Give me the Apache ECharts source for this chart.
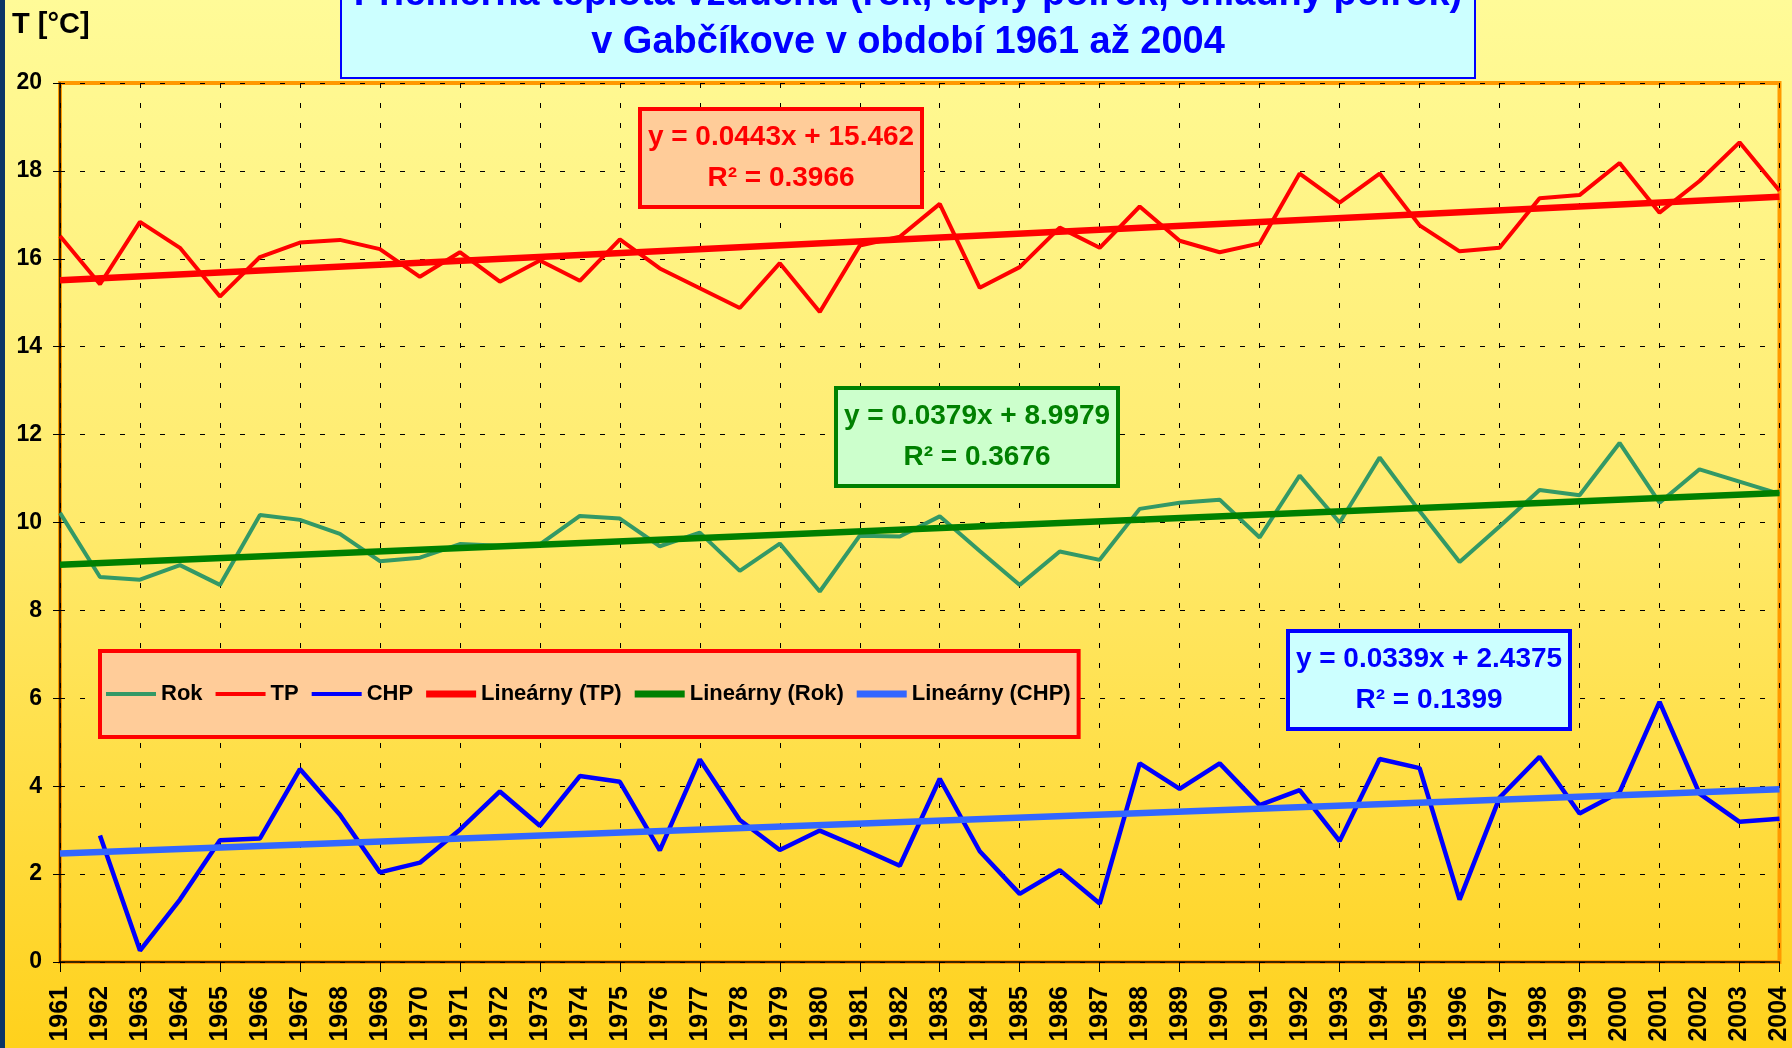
<!DOCTYPE html>
<html lang="sk">
<head>
    <meta charset="UTF-8">
    <title>Priemerná teplota vzduchu v Gabčíkove 1961 - 2004</title>
    <script src="https://cdn.jsdelivr.net/npm/echarts@6/dist/echarts.min.js"></script>
    <style>
        html, body { margin: 0; padding: 0; }
    </style>
</head>
<body>
    <div id="main" style="width:1792px;height:1048px;"></div>
    <script type="text/javascript">
        // roky
        var roky = ['1961','1962','1963','1964','1965','1966','1967','1968','1969','1970',
            '1971','1972','1973','1974','1975','1976','1977','1978','1979','1980',
            '1981','1982','1983','1984','1985','1986','1987','1988','1989','1990',
            '1991','1992','1993','1994','1995','1996','1997','1998','1999','2000',
            '2001','2002','2003','2004'];
        // priemer za rok
        var rok = [10.22, 8.76, 8.70, 9.03, 8.58, 10.17, 10.06, 9.74, 9.12, 9.20,
            9.51, 9.47, 9.50, 10.15, 10.09, 9.46, 9.77, 8.90, 9.52, 8.43,
            9.70, 9.68, 10.14, 9.35, 8.58, 9.34, 9.15, 10.31, 10.45, 10.52,
            9.66, 11.07, 10.00, 11.48, 10.26, 9.10, 9.91, 10.74, 10.62, 11.81,
            10.45, 11.21, 10.93, 10.65];
        // teplý polrok
        var tp = [16.52, 15.42, 16.84, 16.25, 15.14, 16.04, 16.37, 16.43, 16.22, 15.59,
            16.15, 15.48, 15.96, 15.50, 16.44, 15.78, 15.33, 14.88, 15.90, 14.79,
            16.30, 16.50, 17.25, 15.34, 15.81, 16.71, 16.25, 17.19, 16.41, 16.15,
            16.35, 17.94, 17.28, 17.94, 16.76, 16.17, 16.25, 17.38, 17.45, 18.18,
            17.05, 17.77, 18.65, 17.55];
        // chladný polrok (1961 chýba)
        var chp = [null, 2.88, 0.26, 1.42, 2.77, 2.81, 4.39, 3.35, 2.04, 2.26,
            3.01, 3.88, 3.10, 4.23, 4.10, 2.54, 4.61, 3.23, 2.55, 2.99,
            2.60, 2.19, 4.17, 2.52, 1.55, 2.09, 1.33, 4.52, 3.94, 4.52,
            3.57, 3.91, 2.75, 4.62, 4.41, 1.42, 3.74, 4.67, 3.38, 3.86,
            5.92, 3.83, 3.19, 3.26];
        // lineárne trendy - hodnoty na začiatku a na konci obdobia
        var trendTP = [15.51, 17.41];
        var trendRok = [9.04, 10.67];
        var trendCHP = [2.47, 3.93];
        var rovnice = {
            tp: 'y = 0.0443x + 15.462\nR² = 0.3966',
            rok: 'y = 0.0379x + 8.9979\nR² = 0.3676',
            chp: 'y = 0.0339x + 2.4375\nR² = 0.1399'
        };

        var pismo = 'Liberation Sans, Arial, sans-serif';
        var prvy = roky[0], posledny = roky[roky.length - 1];
        // ikonky v legende - tenka a hruba ciara
        var ikonaTenka = 'path://M0,0H50V4H0Z';
        var ikonaHruba = 'path://M0,0H50V7H0Z';

        var chartDom = document.getElementById('main');
        var myChart = echarts.init(chartDom);

        function rovnicaBox(text, stred, hore, farba, pozadie) {
            return {
                text: text,
                left: stred - 8,
                top: hore,
                textAlign: 'center',
                padding: [8, 8],
                backgroundColor: pozadie,
                borderColor: farba,
                borderWidth: 4,
                textStyle: {
                    fontFamily: pismo, fontSize: 28, fontWeight: 'bold',
                    lineHeight: 41, color: farba
                }
            };
        }

        var option = {
            animation: false,
            backgroundColor: new echarts.graphic.LinearGradient(0, 0, 0, 1, [
                { offset: 0, color: '#fffb98' },
                { offset: 0.5, color: '#ffea6c' },
                { offset: 1, color: '#ffd11c' }
            ]),
            graphic: [{
                type: 'rect',
                left: 0, top: 0,
                shape: { width: 5, height: 1048 },
                style: { fill: '#0b3566' }
            }],
            title: [{
                text: 'Priemerná teplota vzduchu (rok, teplý polrok, chladný polrok)\nv Gabčíkove v období 1961 až 2004',
                left: 895,
                top: -40,
                textAlign: 'center',
                padding: [11, 13],
                backgroundColor: '#ccffff',
                borderColor: '#0000ff',
                borderWidth: 2,
                textStyle: {
                    fontFamily: pismo, fontSize: 38, fontWeight: 'bold',
                    lineHeight: 48, color: '#0000ff'
                }
            }, {
                text: 'T [°C]',
                left: 12, top: 10,
                padding: 0,
                textStyle: { fontFamily: pismo, fontSize: 29, fontWeight: 'bold', color: '#000' }
            },
                rovnicaBox(rovnice.tp, 781, 109, '#ff0000', '#ffcc99'),
                rovnicaBox(rovnice.rok, 977, 388, '#008000', '#ccffcc'),
                rovnicaBox(rovnice.chp, 1429, 631, '#0000ff', '#ccffff')
            ],
            legend: {
                data: [
                    { name: 'Rok', icon: ikonaTenka },
                    { name: 'TP', icon: ikonaTenka },
                    { name: 'CHP', icon: ikonaTenka },
                    { name: 'Lineárny (TP)', icon: ikonaHruba },
                    { name: 'Lineárny (Rok)', icon: ikonaHruba },
                    { name: 'Lineárny (CHP)', icon: ikonaHruba }
                ],
                left: 100,
                top: 651,
                padding: [32, 8, 32, 6],
                itemWidth: 50,
                itemHeight: 14,
                itemGap: 13,
                backgroundColor: '#ffcc99',
                borderColor: '#ff0000',
                borderWidth: 4,
                selectedMode: false,
                textStyle: { fontFamily: pismo, fontSize: 22, fontWeight: 'bold', color: '#000' }
            },
            grid: {
                left: 60,
                right: 10,
                top: 83,
                bottom: 86,
                show: true,
                borderColor: '#ff9900',
                borderWidth: 4,
                backgroundColor: 'transparent'
            },
            xAxis: {
                type: 'category',
                data: roky,
                boundaryGap: false,
                axisLine: { lineStyle: { color: '#000', width: 1.5 } },
                axisTick: { interval: 1, length: 10, lineStyle: { color: '#000' } },
                axisLabel: {
                    interval: 0, rotate: 90, margin: 24,
                    fontFamily: pismo, fontSize: 25, fontWeight: 'bold', color: '#000'
                },
                splitLine: {
                    show: true, interval: 1,
                    lineStyle: { color: '#000', width: 1, type: [5, 15] }
                }
            },
            yAxis: {
                type: 'value',
                min: 0, max: 20, interval: 2,
                axisLine: { show: true, lineStyle: { color: '#000', width: 1.5 } },
                axisTick: { show: true, length: 7, lineStyle: { color: '#000' } },
                axisLabel: {
                    margin: 18,
                    fontFamily: pismo, fontSize: 23, fontWeight: 'bold', color: '#000'
                },
                splitLine: { lineStyle: { color: '#000', width: 1, type: [5, 15] } }
            },
            series: [{
                name: 'Rok', type: 'line', data: rok, symbol: 'none',
                lineStyle: { color: '#339966', width: 4 }, itemStyle: { color: '#339966' }
            }, {
                name: 'TP', type: 'line', data: tp, symbol: 'none',
                lineStyle: { color: '#ff0000', width: 4 }, itemStyle: { color: '#ff0000' }
            }, {
                name: 'CHP', type: 'line', data: chp, symbol: 'none',
                lineStyle: { color: '#0000ff', width: 4.5 }, itemStyle: { color: '#0000ff' }
            }, {
                name: 'Lineárny (TP)', type: 'line', symbol: 'none',
                data: [[prvy, trendTP[0]], [posledny, trendTP[1]]],
                lineStyle: { color: '#ff0000', width: 6.5 }, itemStyle: { color: '#ff0000' }
            }, {
                name: 'Lineárny (Rok)', type: 'line', symbol: 'none',
                data: [[prvy, trendRok[0]], [posledny, trendRok[1]]],
                lineStyle: { color: '#008000', width: 6.5 }, itemStyle: { color: '#008000' }
            }, {
                name: 'Lineárny (CHP)', type: 'line', symbol: 'none',
                data: [[prvy, trendCHP[0]], [posledny, trendCHP[1]]],
                lineStyle: { color: '#3366ff', width: 6.5 }, itemStyle: { color: '#3366ff' }
            }]
        };

        myChart.setOption(option);
        window.addEventListener('resize', function () {
            myChart.resize();
        });
    </script>
</body>
</html>
